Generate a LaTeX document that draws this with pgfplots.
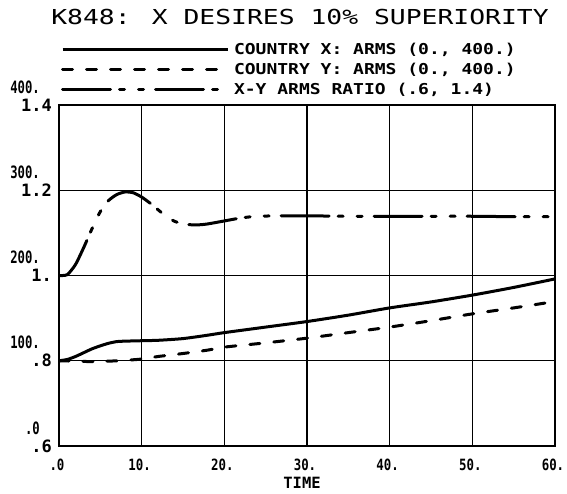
\documentclass[border=0pt]{standalone}
\usepackage{fontspec}
\usepackage{pgfplots}
\pgfplotsset{compat=1.18}
\setmainfont{DejaVu Sans Mono}
\newfontfamily\titlefont[FakeStretch=1.28]{DejaVu Sans Mono}
\newfontfamily\legfont[FakeStretch=1.2]{DejaVu Sans Mono}
\newfontfamily\tickfont{DejaVu Sans Mono}
\newfontfamily\armsfont[FakeStretch=0.72]{DejaVu Sans Mono}
\newfontfamily\xtickfont[FakeStretch=0.8]{DejaVu Sans Mono}
\begin{document}
\begin{tikzpicture}
\begin{axis}[
  scale only axis, width=496pt, height=341pt,
  xmin=0, xmax=60, ymin=0, ymax=400,
  xtick={0,10,20,30,40,50,60},
  xticklabels={.0,10.,20.,30.,40.,50.,60.},
  ytick={0,100,200,300,400},
  yticklabels={.6,.8,1.,1.2,1.4},
  extra y ticks={0,100,200,300,400},
  extra y tick labels={.0,100.,200.,300.,400.},
  extra y tick style={grid=none, yticklabel style={font=\armsfont\bfseries\fontsize{17}{17}\selectfont, xshift=-12pt, yshift=18pt}},
  grid=major, grid style={black, line width=1.2pt},
  major tick length=0pt,
  axis line style={line width=1.8pt},
  yticklabel style={font=\tickfont\bfseries\fontsize{17}{17}\selectfont, anchor=east, inner sep=0pt, xshift=-7pt},
  xticklabel style={font=\xtickfont\bfseries\fontsize{15.5}{15.5}\selectfont, anchor=base, inner sep=0pt, yshift=-24pt, xshift=-2pt},
  xlabel={TIME},
  xlabel style={font=\tickfont\bfseries\fontsize{15.5}{15.5}\selectfont, at={(rel axis cs:0.49,0)}, anchor=base, inner sep=0pt, yshift=-42pt},
  title={K848: X DESIRES 10\% SUPERIORITY},
  title style={font=\titlefont\fontsize{20.6}{24}\selectfont, anchor=base, at={(rel axis cs:0.486,1)}, inner sep=0pt, yshift=75pt},
  legend style={at={(rel axis cs:0,1)}, anchor=south west, xshift=2pt, yshift=10.5pt, draw=none, fill=none, inner sep=0pt, outer sep=0pt, row sep=9pt, column sep=0pt, font=\legfont\bfseries\fontsize{15}{15}\selectfont, cells={anchor=west}, nodes={inner sep=0pt, text height=11pt, text depth=0pt}},
  legend image code/.code={\draw[#1] (0pt,0pt) -- (165pt,0pt);},
  legend cell align=left,
]
\addplot[black, line width=3pt, smooth, tension=0.4] coordinates {
(0,100) (1,101.5) (2,105) (3,109.5) (4,114) (5,117.5) (6,120.5) (7,122.5) (8,123) (10,123.5) (12,124) (15,126) (18,130) (20,133) (25,139.5) (30,146) (35,153.5) (40,162) (45,169) (50,177) (55,186) (60,196)
};
\addlegendentry{\hspace{5pt}COUNTRY X: ARMS (0., 400.)}
\addplot[black, line width=3pt, line cap=round, dash pattern=on 10pt off 14pt, smooth, tension=0.4] coordinates {
(0,100) (2,99.5) (4,99) (6,99.5) (8,100.5) (10,102) (12,105) (15,108.5) (18,112.5) (20,116) (25,121) (30,126.5) (35,133) (40,139.5) (45,147) (50,155) (55,162) (60,169.5)
};
\addlegendentry{\hspace{5pt}COUNTRY Y: ARMS (0., 400.)}
\addplot[black, line width=3pt, line cap=round, dash pattern=on 48pt off 9pt on 5pt off 14pt on 5pt off 12pt, smooth, tension=0.4] coordinates {
(0,200) (1,201) (2,213) (3,233) (4,255) (5,275) (6,288) (7,295) (8,298) (9,297) (10,292) (11,285) (12,277) (13,269) (14,263.5) (15,260.5) (16,259.5) (17,259.5) (18,260.5) (20,264) (22,267.5) (24,269.5) (27,270) (30,270) (35,269.5) (40,269.5) (45,269.5) (50,269.5) (55,269) (60,269)
};
\addlegendentry{\hspace{5pt}X-Y ARMS RATIO (.6, 1.4)}
\end{axis}
\pgfresetboundingbox
\path[use as bounding box] (-59pt,-47pt) rectangle (508pt,446pt);
\end{tikzpicture}
\end{document}
